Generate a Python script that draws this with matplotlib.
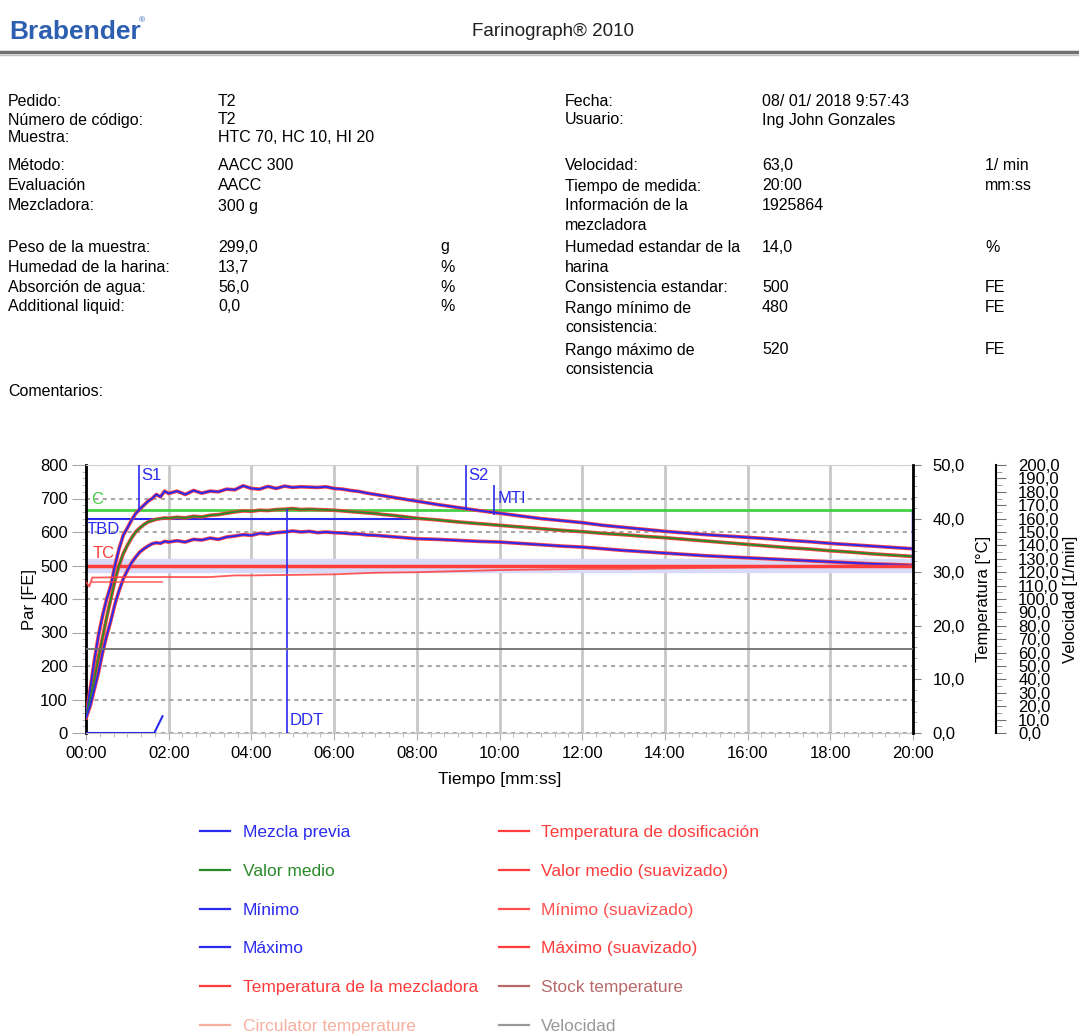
import matplotlib
matplotlib.use("Agg")
import matplotlib.pyplot as plt
from matplotlib.lines import Line2D
from matplotlib.ticker import FuncFormatter, MultipleLocator

plt.rcParams['font.family'] = ['Liberation Sans', 'DejaVu Sans']

# ---- datos del ensayo ----
info_izq = ["Pedido:", "Número de código:", "Muestra:", "Método:", "Evaluación", "Mezcladora:",
            "Peso de la muestra:", "Humedad de la harina:", "Absorción de agua:", "Additional liquid:"]
valores_izq = ["T2", "T2", "HTC 70, HC 10, HI 20", "AACC 300", "AACC", "300 g",
               "299,0", "13,7", "56,0", "0,0"]
unidades_izq = ["", "", "", "", "", "", "g", "%", "%", "%"]

info_der = ["Fecha:", "Usuario:", "Velocidad:", "Tiempo de medida:", "Información de la\nmezcladora",
            "Humedad estandar de la\nharina", "Consistencia estandar:", "Rango mínimo de\nconsistencia:",
            "Rango máximo de\nconsistencia"]
valores_der = ["08/ 01/ 2018 9:57:43", "Ing John Gonzales", "63,0", "20:00", "1925864",
               "14,0", "500", "480", "520"]
unidades_der = ["", "", "1/ min", "mm:ss", "", "%", "FE", "FE", "FE"]

# curvas (tiempo en minutos, par en FE)
tiempo = [0, 0.1, 0.2, 0.3, 0.4, 0.5, 0.6, 0.7, 0.8, 0.9, 1.0, 1.1, 1.2, 1.3, 1.4, 1.5, 1.6, 1.7, 1.8, 1.9, 2.0,
          2.2, 2.4, 2.6, 2.8, 3.0, 3.2, 3.4, 3.6, 3.8, 4.0, 4.2, 4.4, 4.6, 4.8, 5.0, 5.2, 5.4, 5.6, 5.8, 6.0,
          6.2, 6.4, 6.6, 6.8, 7.0, 7.2, 7.4, 7.6, 7.8, 8.0,
          8.5, 9.0, 9.5, 10, 10.5, 11, 11.5, 12, 12.5, 13, 13.5, 14, 14.5, 15, 15.5, 16, 16.5, 17, 17.5,
          18, 18.5, 19, 19.5, 20]
maximo = [48, 130, 215, 290, 350, 400, 440, 500, 550, 590, 612, 635, 655, 668, 680, 692, 700, 712, 705, 722, 715,
          722, 712, 724, 716, 722, 720, 728, 726, 738, 730, 728, 736, 730, 737, 733, 735, 734, 733, 735, 730,
          728, 724, 721, 716, 712, 708, 704, 700, 696, 692,
          682, 673, 664, 656, 648, 640, 634, 628, 620, 614, 608, 602, 597, 592, 588, 584, 580, 575, 571,
          566, 562, 558, 554, 550]
medio = [45, 100, 160, 225, 285, 345, 400, 455, 500, 535, 560, 582, 600, 612, 622, 630, 634, 638, 640, 642, 641,
         644, 642, 647, 645, 650, 652, 656, 660, 663, 662, 665, 664, 667, 668, 670, 667, 668, 667, 666, 665,
         663, 661, 659, 657, 655, 652, 650, 647, 644, 641,
         636, 630, 625, 620, 615, 610, 605, 601, 596, 592, 587, 583, 578, 573, 568, 563, 558, 553, 549,
         544, 540, 535, 531, 527]
minimo = [45, 80, 130, 180, 240, 290, 335, 385, 425, 460, 485, 508, 525, 540, 550, 558, 565, 568, 566, 572, 570,
          574, 570, 578, 576, 582, 578, 585, 588, 592, 590, 596, 594, 598, 600, 603, 600, 602, 598, 600, 598,
          597, 595, 594, 591, 590, 588, 586, 584, 582, 580,
          578, 575, 572, 570, 566, 562, 558, 555, 550, 545, 541, 537, 533, 529, 526, 523, 520, 517, 514,
          511, 508, 505, 503, 501]

premezcla_t = [0, 1.65, 1.85]
premezcla = [0, 0, 50]

# temperaturas en °C
temp_t = [0, 0.08, 0.15, 0.3, 1.0, 2.0, 3.0, 3.6, 4.0, 5.0, 6.0, 7.0, 8.0, 9.0, 10, 11, 12, 13, 14, 15,
          16, 17, 18, 19, 20]
temp_mezcladora = [28.2, 27.3, 29.0, 29.0, 29.1, 29.1, 29.1, 29.4, 29.4, 29.5, 29.6, 29.9, 30.0, 30.2,
                   30.4, 30.5, 30.6, 30.6, 30.7, 30.8, 30.9, 31.0, 31.2, 31.2, 31.3]
dosif_t = [0.15, 1.85]
temp_dosif = [28.2, 28.2]

velocidad_t = [0, 20]
velocidad = [63, 63]

# puntos de evaluación
consistencia = 500
rango_min, rango_max = 480, 520
nivel_c = 666
nivel_tbd = 640
fin_tbd = 8.0
t_s1, t_s2, t_mti, t_ddt = 1.28, 9.19, 9.87, 4.85
mti_bajo, mti_alto = 651, 740
pico_ddt = 668

azul = '#2b2bf0'
verde = '#2a8a2a'
verde_c = '#44d044'
rojo = '#ff3c3c'

W, H = 1079, 1035
fig = plt.figure(figsize=(W / 100, H / 100), dpi=100)

def fy(y):
    return 1 - y / H

# ---- cabecera ----
fig.text(9 / W, fy(32), "Brabender", color='#2d5fb0', fontsize=19, fontweight='bold', va='center',
         family=['Liberation Sans Narrow', 'Liberation Sans'])
fig.text(139 / W, fy(21), "®", color='#2d5fb0', fontsize=6, va='center')
fig.text(553 / W, fy(31), "Farinograph® 2010", fontsize=13.5, ha='center', va='center', color='#202020')
fig.add_artist(Line2D([0, 1], [fy(52), fy(52)], transform=fig.transFigure, color='#707070', lw=2.5))
fig.add_artist(Line2D([0, 1], [fy(55), fy(55)], transform=fig.transFigure, color='#c0c0c0', lw=1))

fs = 11.5
ys_izq = [101, 120, 138, 166, 186, 206, 247, 267, 287, 307]
for y, a, b, c in zip(ys_izq, info_izq, valores_izq, unidades_izq):
    fig.text(8 / W, fy(y), a, fontsize=fs, va='center')
    fig.text(218 / W, fy(y), b, fontsize=fs, va='center')
    fig.text(440 / W, fy(y), c, fontsize=fs, va='center')
fig.text(8 / W, fy(391), "Comentarios:", fontsize=fs, va='center')

ys_der = [101, 120, 166, 186, 206, 247, 288, 308, 350]
for y, a, b, c in zip(ys_der, info_der, valores_der, unidades_der):
    for k, linea in enumerate(a.split("\n")):
        fig.text(565 / W, fy(y + 20 * k), linea, fontsize=fs, va='center')
    fig.text(762 / W, fy(y), b, fontsize=fs, va='center')
    fig.text(985 / W, fy(y), c, fontsize=fs, va='center')

# ---- gráfico ----
x0, x1, y0, y1 = 86, 913, 465, 733
ax = fig.add_axes([x0 / W, fy(y1), (x1 - x0) / W, (y1 - y0) / H])
ax.set_xlim(0, 20)
ax.set_ylim(0, 800)

ax.axhspan(rango_min, rango_max, color='#d9d9f8', zorder=1)
ax.axhline(consistencia, color=rojo, lw=2.5, zorder=2)
ax.axhline(nivel_c, color=verde_c, lw=2, zorder=2)
ax.hlines(nivel_tbd, 0, fin_tbd, color=azul, lw=1.5, zorder=2)

for serie, col in [(maximo, azul), (medio, verde), (minimo, azul)]:
    ax.plot(tiempo, serie, color=rojo, lw=2.6, zorder=3)
    ax.plot(tiempo, serie, color=col, lw=1.4, zorder=4)
ax.plot(premezcla_t, premezcla, color=azul, lw=1.5, zorder=4)

ax.vlines(t_s1, nivel_c, 800, color=azul, lw=1.2, zorder=5)
ax.vlines(t_s2, nivel_c, 800, color=azul, lw=1.2, zorder=5)
ax.vlines(t_mti, mti_bajo, mti_alto, color=azul, lw=1.2, zorder=5)
ax.vlines(t_ddt, 0, pico_ddt, color=azul, lw=1.2, zorder=5)
ax.vlines(20, minimo[-1], nivel_c, color=azul, lw=2.5, zorder=5)

fl = 12
ax.text(t_s1 + 0.05, 770, "S1", color=azul, fontsize=fl, va='center')
ax.text(t_s2 + 0.05, 770, "S2", color=azul, fontsize=fl, va='center')
ax.text(t_mti + 0.08, 700, "MTI", color=azul, fontsize=fl, va='center')
ax.text(t_ddt + 0.08, 38, "DDT", color=azul, fontsize=fl, va='center')
ax.text(0.12, 697, "C", color=verde_c, fontsize=fl, va='center')
ax.text(0.02, 607, "TBD", color=azul, fontsize=fl, va='center')
ax.text(0.15, 537, "TC", color=rojo, fontsize=fl, va='center')

ax.xaxis.set_major_locator(MultipleLocator(2))
ax.xaxis.set_minor_locator(MultipleLocator(1 / 3))
ax.xaxis.set_major_formatter(FuncFormatter(lambda v, p: "%02d:00" % int(round(v))))
ax.yaxis.set_major_locator(MultipleLocator(100))
ax.yaxis.set_minor_locator(MultipleLocator(20))
ax.grid(axis='x', which='major', color='#c8c8c8', lw=2, zorder=0)
ax.grid(axis='y', which='major', color='#a8a8a8', lw=1.5, ls=(0, (2, 2)), zorder=0)
ax.set_axisbelow(True)
ax.tick_params(axis='x', which='major', length=5, color='#b0b0b0', labelsize=12, pad=4)
ax.tick_params(axis='x', which='minor', length=3, color='#b0b0b0')
ax.tick_params(axis='y', which='major', length=10, color='#a8a8a8', labelsize=12, pad=3)
ax.tick_params(axis='y', which='minor', length=3, color='#b0b0b0')
ax.spines['left'].set_linewidth(2)
ax.spines['top'].set_color('#d0d0d0')
ax.spines['bottom'].set_color('#c0c0c0')
ax.spines['right'].set_visible(False)
ax.set_xlabel("Tiempo [mm:ss]", fontsize=12.5, labelpad=8)
ax.set_ylabel("Par [FE]", fontsize=12, labelpad=2)

# eje de temperatura
axt = ax.twinx()
axt.set_ylim(0, 50)
axt.plot(temp_t, temp_mezcladora, color=rojo, lw=1.3, alpha=0.85)
axt.plot(dosif_t, temp_dosif, color=rojo, lw=1.3, alpha=0.7)
axt.yaxis.set_major_locator(MultipleLocator(10))
axt.yaxis.set_minor_locator(MultipleLocator(2))
axt.yaxis.set_major_formatter(FuncFormatter(lambda v, p: ("%.1f" % v).replace('.', ',')))
axt.tick_params(axis='y', which='major', length=6, color='#808080', labelsize=12, pad=8)
axt.tick_params(axis='y', which='minor', length=3, color='#a0a0a0')
axt.spines['right'].set_linewidth(2)
for s in ['left', 'top', 'bottom']:
    axt.spines[s].set_visible(False)
axt.set_ylabel("Temperatura [°C]", fontsize=12, labelpad=8)

# eje de velocidad
axv = ax.twinx()
axv.set_ylim(0, 200)
axv.plot(velocidad_t, velocidad, color='#707070', lw=1.3)
axv.spines['right'].set_position(('axes', (996 - x0) / (x1 - x0)))
axv.spines['right'].set_linewidth(1.5)
for s in ['left', 'top', 'bottom']:
    axv.spines[s].set_visible(False)
axv.yaxis.set_major_locator(MultipleLocator(10))
axv.yaxis.set_minor_locator(MultipleLocator(5))
axv.yaxis.set_major_formatter(FuncFormatter(lambda v, p: ("%.1f" % v).replace('.', ',')))
axv.tick_params(axis='y', which='major', length=7, color='#707070', labelsize=12, pad=9)
axv.tick_params(axis='y', which='minor', length=4, color='#909090')
axv.set_ylabel("Velocidad [1/min]", fontsize=12, labelpad=2)

# ---- leyenda ----
nombres = ["Mezcla previa", "Valor medio", "Mínimo", "Máximo", "Temperatura de la mezcladora",
           "Circulator temperature", "Temperatura de dosificación", "Valor medio (suavizado)",
           "Mínimo (suavizado)", "Máximo (suavizado)", "Stock temperature", "Velocidad"]
colores = [azul, verde, azul, azul, rojo, '#f6b0a0', rojo, rojo, '#ff5050', rojo, '#b86a6a', '#999999']
handles = [Line2D([], [], color=c, lw=1.6) for c in colores]
fig.legend(handles, nombres, loc='upper left', bbox_to_anchor=(200 / W, fy(825)), ncol=2,
           frameon=False, fontsize=12.5, labelcolor=colores, labelspacing=1.36, borderpad=0,
           borderaxespad=0, handlelength=1.75, handletextpad=0.7, columnspacing=1.2)

fig.savefig("out.png", dpi=100)
